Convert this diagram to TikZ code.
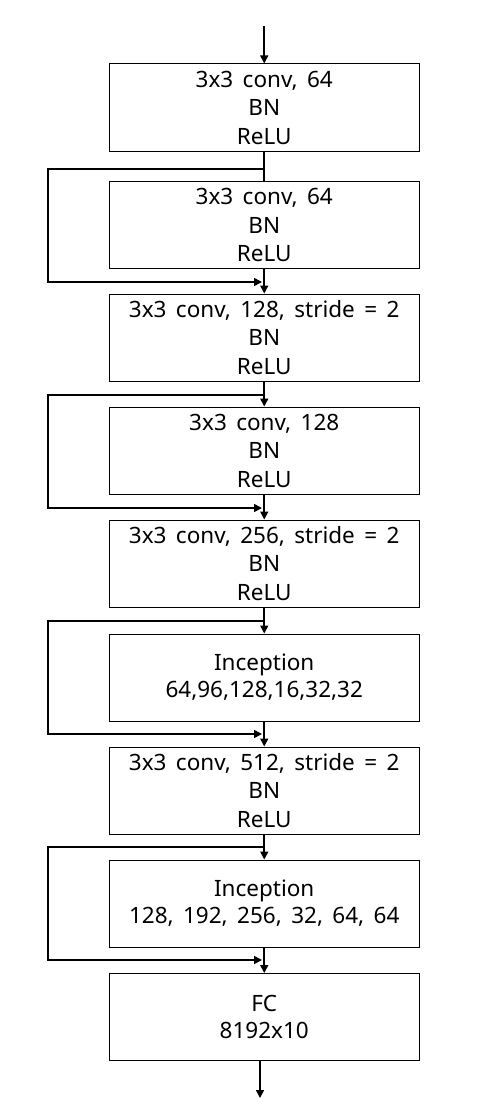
\documentclass[tikz,border=0pt]{standalone}
\usepackage{fontspec}
\setmainfont{Noto Sans}
\usetikzlibrary{arrows.meta}
\newcommand{\gp}{\hspace{0.42em}}
\begin{document}
\begin{tikzpicture}[x=1pt,y=-1pt,
  layer/.style={draw=black,line width=1pt,rectangle,minimum width=309.5pt,minimum height=87pt,
    inner sep=0pt,align=center,font=\fontsize{22.5}{28.5}\selectfont},
  conn/.style={line width=1.6pt},
  arr/.style={conn,-{Triangle[length=8pt,width=8pt]}}]
\useasboundingbox (0,0) rectangle (500,1116);
\def\cx{264.25}
\node[layer] (b1) at (\cx,107.5) {3x3\gp conv,\gp 64\\BN\\ReLU};
\node[layer] (b2) at (\cx,225) {3x3\gp conv,\gp 64\\BN\\ReLU};
\node[layer] (b3) at (\cx,337.5) {3x3\gp conv,\gp 128,\gp stride\gp =\gp 2\\BN\\ReLU};
\node[layer] (b4) at (\cx,450.5) {3x3\gp conv,\gp 128\\BN\\ReLU};
\node[layer] (b5) at (\cx,563.5) {3x3\gp conv,\gp 256,\gp stride\gp =\gp 2\\BN\\ReLU};
\node[layer,font=\fontsize{22.5}{27}\selectfont] (b6) at (\cx,677.5) {Inception\\64,96,128,16,32,32};
\node[layer] (b7) at (\cx,790.5) {3x3\gp conv,\gp 512,\gp stride\gp =\gp 2\\BN\\ReLU};
\node[layer,font=\fontsize{22.5}{27}\selectfont] (b8) at (\cx,903.5) {Inception\\128,\gp 192,\gp 256,\gp 32,\gp 64,\gp 64};
\node[layer,font=\fontsize{22.5}{27}\selectfont] (b9) at (\cx,1017) {FC\\8192x10};
% input / output
\coordinate (in) at (\cx,26);
\coordinate (out) at (260,1098);
\draw[arr] (in) -- (b1.north);
\draw[arr] ([xshift=-4.25pt]b9.south) -- (out);
% main connectors
\draw[conn] (b1.south) -- (b2.north);
\draw[arr] (b2.south) -- (b3.north);
\draw[arr] (b3.south) -- (b4.north);
\draw[arr] (b4.south) -- (b5.north);
\draw[arr] (b5.south) -- (b6.north);
\draw[arr] (b6.south) -- (b7.north);
\draw[arr] (b7.south) -- (b8.north);
\draw[arr] (b8.south) -- (b9.north);
% skip connections
\foreach \s/\t/\ya/\yb in {1/2/169/282, 3/4/395/508, 5/6/621/734, 7/8/847/960}{
  \coordinate (s\s) at (\cx,\ya);
  \coordinate (e\s) at (262,\yb);
  \draw[arr] (s\s) -| (48,\yb) -- (e\s);
}
\end{tikzpicture}
\end{document}
